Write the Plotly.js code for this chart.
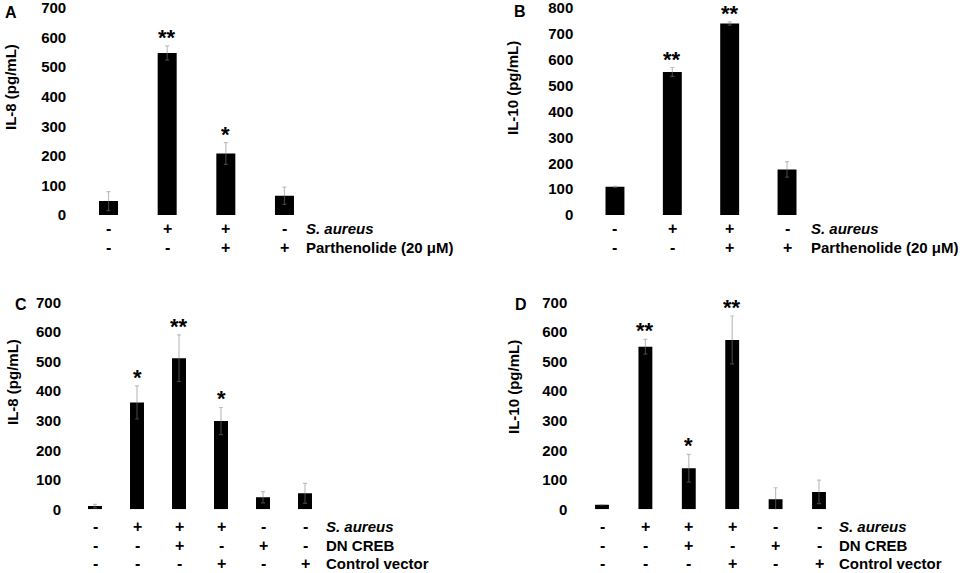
<!DOCTYPE html>
<html>
<head>
<meta charset="utf-8">
<script src="https://cdn.plot.ly/plotly-3.0.1.min.js"></script>
<style>
  html, body { margin: 0; padding: 0; background: #fff; }
  #chart { width: 963px; height: 573px; }
</style>
</head>
<body>
<div id="chart"></div>
<script>
// Panel A: IL-8, S. aureus +/- parthenolide
var il8_parth = [47, 548, 208, 65];
var il8_parth_err = [32, 24, 37, 29];
var il8_parth_stars = ['', '**', '*', ''];
// Panel B: IL-10, S. aureus +/- parthenolide
var il10_parth = [109, 553, 740, 176];
var il10_parth_err = [2, 17, 6, 30];
var il10_parth_stars = ['', '**', '**', ''];
// Panel C: IL-8, DN CREB / control vector
var il8_creb = [11, 362, 512, 299, 41, 54];
var il8_creb_err = [6, 56, 79, 46, 19, 34];
var il8_creb_stars = ['', '*', '**', '*', '', ''];
// Panel D: IL-10, DN CREB / control vector
var il10_creb = [15, 551, 139, 574, 34, 59];
var il10_creb_err = [0, 25, 47, 81, 39, 40];
var il10_creb_stars = ['', '**', '*', '**', '', ''];

// Treatment rows under the bars
var parth_row_names = ['S. aureus', 'Parthenolide (20 \u03bcM)'];
var parth_rows = [
  ['-', '+', '+', '-'],
  ['-', '-', '+', '+'],
];
var creb_row_names = ['S. aureus', 'DN CREB', 'Control vector'];
var creb_rows = [
  ['-', '+', '+', '+', '-', '-'],
  ['-', '-', '+', '-', '+', '-'],
  ['-', '-', '-', '+', '-', '+'],
];

const W = 963;
const H = 573;
const FONT = 'Liberation Sans, Arial, sans-serif';

// pixel geometry of each panel
var panels = [
  {
    letter: 'A', values: il8_parth, err: il8_parth_err, stars: il8_parth_stars,
    rows: parth_rows, row_names: parth_row_names, ytitle: 'IL-8 (pg/mL)',
    x0: 79.2, x1: 313.8, y0: 215, y1: 8, ymax: 700, width: 0.324,
    row_y: [229, 247], row_x: 305, title_x: 10, title_y: 87, letter_x: 3, letter_y: 12,
  },
  {
    letter: 'B', values: il10_parth, err: il10_parth_err, stars: il10_parth_stars,
    rows: parth_rows, row_names: parth_row_names, ytitle: 'IL-10 (pg/mL)',
    x0: 586.3, x1: 815.7, y0: 215, y1: 8, ymax: 800, width: 0.33,
    row_y: [229, 247], row_x: 810, title_x: 513, title_y: 88, letter_x: 512, letter_y: 11,
  },
  {
    letter: 'C', values: il8_creb, err: il8_creb_err, stars: il8_creb_stars,
    rows: creb_rows, row_names: creb_row_names, ytitle: 'IL-8 (pg/mL)',
    x0: 74, x1: 326, y0: 509.3, y1: 302.7, ymax: 700, width: 0.333,
    row_y: [526, 545, 563], row_x: 325, title_x: 12, title_y: 382, letter_x: 13, letter_y: 304,
  },
  {
    letter: 'D', values: il10_creb, err: il10_creb_err, stars: il10_creb_stars,
    rows: creb_rows, row_names: creb_row_names, ytitle: 'IL-10 (pg/mL)',
    x0: 580.3, x1: 840.7, y0: 509.3, y1: 302.7, ymax: 700, width: 0.32,
    row_y: [526, 545, 563], row_x: 838, title_x: 513, title_y: 387, letter_x: 513, letter_y: 304,
  },
];

var data = [];
var layout = {
  width: W,
  height: H,
  margin: { l: 0, r: 0, t: 0, b: 0 },
  paper_bgcolor: '#fff',
  plot_bgcolor: '#fff',
  showlegend: false,
  font: { family: FONT, size: 15, color: '#000' },
  annotations: [],
};

function bold(size) {
  return { family: FONT, size: size, color: '#000', weight: 'bold' };
}

panels.forEach((p, i) => {
  var n = p.values.length;
  var xs = p.values.map((v, j) => j);
  var xname = i == 0 ? 'x' : 'x' + (i + 1);
  var yname = i == 0 ? 'y' : 'y' + (i + 1);
  var xkey = i == 0 ? 'xaxis' : 'xaxis' + (i + 1);
  var ykey = i == 0 ? 'yaxis' : 'yaxis' + (i + 1);

  data.push({
    type: 'bar',
    x: xs,
    y: p.values,
    width: p.width,
    xaxis: xname,
    yaxis: yname,
    marker: { color: '#000' },
    error_y: {
      type: 'data',
      array: p.err,
      visible: true,
      color: 'rgba(128,128,128,0.5)', // light grey on white, dark grey over the bar
      thickness: 1.2,
      width: 2,
    },
    hoverinfo: 'y',
  });

  layout[xkey] = {
    domain: [p.x0 / W, p.x1 / W],
    range: [-0.5, n - 0.5],
    anchor: yname,
    showgrid: false,
    zeroline: false,
    showline: false,
    showticklabels: false,
    ticks: '',
    fixedrange: true,
  };
  layout[ykey] = {
    domain: [1 - p.y0 / H, 1 - p.y1 / H],
    range: [0, p.ymax],
    dtick: 100,
    anchor: xname,
    showgrid: false,
    zeroline: false,
    showline: false,
    ticks: '',
    ticklabelstandoff: 12,
    ticklabeloverflow: 'allow',
    tickfont: bold(15),
    fixedrange: true,
  };

  // significance stars above the error bars
  p.stars.forEach((s, j) => {
    if (!s) return;
    layout.annotations.push({
      xref: xname, yref: yname,
      x: j, y: p.values[j] + p.err[j],
      text: s, showarrow: false,
      yanchor: 'bottom', yshift: -6,
      font: bold(22),
    });
  });

  // +/- treatment table
  p.rows.forEach((row, r) => {
    row.forEach((sign, j) => {
      layout.annotations.push({
        xref: xname, yref: 'paper',
        x: j, y: 1 - p.row_y[r] / H,
        text: sign, showarrow: false,
        xanchor: 'center', yanchor: 'middle',
        borderpad: 0,
        font: bold(16),
      });
    });
    var label = r == 0 ? '<i>' + p.row_names[r] + '</i>' : p.row_names[r];
    layout.annotations.push({
      xref: 'paper', yref: 'paper',
      x: p.row_x / W, y: 1 - p.row_y[r] / H,
      text: label, showarrow: false,
      xanchor: 'left', yanchor: 'middle',
      borderpad: 0,
      font: bold(15),
    });
  });

  // y axis title, placed by hand like the original
  layout.annotations.push({
    xref: 'paper', yref: 'paper',
    x: p.title_x / W, y: 1 - p.title_y / H,
    text: p.ytitle, showarrow: false, textangle: -90,
    xanchor: 'center', yanchor: 'middle',
    font: bold(15),
  });

  // panel letter
  layout.annotations.push({
    xref: 'paper', yref: 'paper',
    x: p.letter_x / W, y: 1 - p.letter_y / H,
    text: p.letter, showarrow: false,
    xanchor: 'left', yanchor: 'middle',
    font: bold(16),
  });
});

Plotly.newPlot('chart', data, layout, { staticPlot: true });
</script>
</body>
</html>
